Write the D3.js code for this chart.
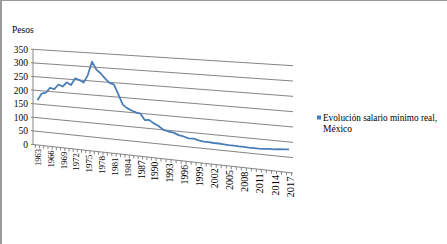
<!DOCTYPE html>
<html>

<head>
    <meta charset="utf-8">
    <title>Evolución salario mínimo real</title>
    <script src="https://d3js.org/d3.v7.min.js"></script>
    <style>
        body { margin: 0; background: #fff; }
        text { font-family: "Liberation Serif", "Times New Roman", serif; fill: #000; }
    </style>
</head>

<body>
    <div id="chart"></div>

    <script>
        // data
        const firstYear = 1963;
        const lastYear = 2017;
        const years = d3.range(firstYear, lastYear + 1);
        const salario = [
            164, 190, 195, 213, 210, 228, 222, 238, 230, 255,
            250, 242, 270, 319, 292, 279, 262, 248, 243, 210,
            175, 164, 157, 152, 149, 128, 130, 120, 112, 100,
            96, 94, 87, 84, 79, 80, 76, 73, 73, 72,
            72, 71, 70, 70, 69, 69, 68, 68, 68, 69,
            71, 71, 73, 74, 76
        ];
        const yTicks = [0, 50, 100, 150, 200, 250, 300, 350];
        const xLabelYears = d3.range(firstYear, lastYear + 1, 3);
        const seriesName = ["Evolución salario mínimo real,", "México"];
        const yTitle = "Pesos";

        const W = 447, H = 244;
        const svg = d3.select("#chart").append("svg")
            .attr("width", W).attr("height", H);

        // frame
        svg.append("line").attr("x1", 0).attr("x2", W).attr("y1", 0.5).attr("y2", 0.5)
            .attr("stroke", "#9a9a9a");
        svg.append("line").attr("x1", 1).attr("x2", 1).attr("y1", 0).attr("y2", H)
            .attr("stroke", "#9a9a9a").attr("stroke-width", 2);

        // x position (slight perspective: spacing widens to the right)
        const x = d3.scaleLinear()
            .domain([1963, 1976, 1990, 2017])
            .range([37.5, 92, 153.5, 289]);

        // floor (value 0) and top (value 350) edges of the tilted plane
        const plotL = 33, plotR = 293;
        const baseEdge = d3.scaleLinear().domain([plotL, plotR]).range([144.5, 173]);
        const topEdge = d3.scaleLinear().domain([plotL, plotR]).range([49.3, 65.7]);
        const yAt = (px, v) => d3.scaleLinear().domain([0, 350]).range([baseEdge(px), topEdge(px)])(v);

        // gridlines
        yTicks.forEach(v => {
            svg.append("line")
                .attr("x1", plotL - 2).attr("y1", yAt(plotL - 2, v))
                .attr("x2", plotR).attr("y2", yAt(plotR, v))
                .attr("stroke", "#858585").attr("stroke-width", 1);
        });

        // left axis line
        svg.append("line")
            .attr("x1", plotL).attr("y1", yAt(plotL, 0))
            .attr("x2", plotL).attr("y2", yAt(plotL, 350))
            .attr("stroke", "#858585");

        // y labels
        svg.selectAll(".ylab").data(yTicks).join("text")
            .attr("class", "ylab")
            .attr("x", plotL - 5)
            .attr("y", d => yAt(plotL, d) + 3.5)
            .attr("text-anchor", "end")
            .style("font-size", "9.5px")
            .text(d => d);

        // category axis ticks
        const bounds = d3.range(firstYear - 0.5, lastYear + 1, 1);
        svg.selectAll(".xtick").data(bounds).join("line")
            .attr("class", "xtick")
            .attr("x1", d => x(d)).attr("x2", d => x(d))
            .attr("y1", d => baseEdge(x(d))).attr("y2", d => baseEdge(x(d)) + 3)
            .attr("stroke", "#858585");

        // x labels
        const labelSize = d3.scaleLinear().domain([firstYear, lastYear]).range([8.5, 10.5]);
        svg.selectAll(".xlab").data(xLabelYears).join("text")
            .attr("class", "xlab")
            .attr("transform", d => `translate(${x(d) + 1},${baseEdge(x(d)) + 4}) rotate(-90)`)
            .attr("text-anchor", "end")
            .attr("dy", "0.35em")
            .style("font-size", d => labelSize(d) + "px")
            .text(d => d);

        // series line
        const line = d3.line()
            .x((d, i) => x(years[i]))
            .y((d, i) => yAt(x(years[i]), d));

        svg.append("path")
            .datum(salario)
            .attr("d", line)
            .attr("fill", "none")
            .attr("stroke", "#4a7ebb")
            .attr("stroke-width", 1.8)
            .attr("stroke-linejoin", "round");

        // axis title
        svg.append("text")
            .attr("x", 12).attr("y", 33)
            .style("font-size", "9.5px")
            .text(yTitle);

        // legend
        svg.append("rect")
            .attr("x", 317).attr("y", 115.5).attr("width", 4).attr("height", 4)
            .attr("fill", "#4a7ebb");
        svg.append("text")
            .attr("x", 323).attr("y", 121)
            .attr("textLength", 114)
            .attr("lengthAdjust", "spacingAndGlyphs")
            .style("font-size", "9.5px")
            .text(seriesName[0]);
        svg.append("text")
            .attr("x", 323).attr("y", 131.5)
            .style("font-size", "9.5px")
            .text(seriesName[1]);
    </script>
</body>

</html>
